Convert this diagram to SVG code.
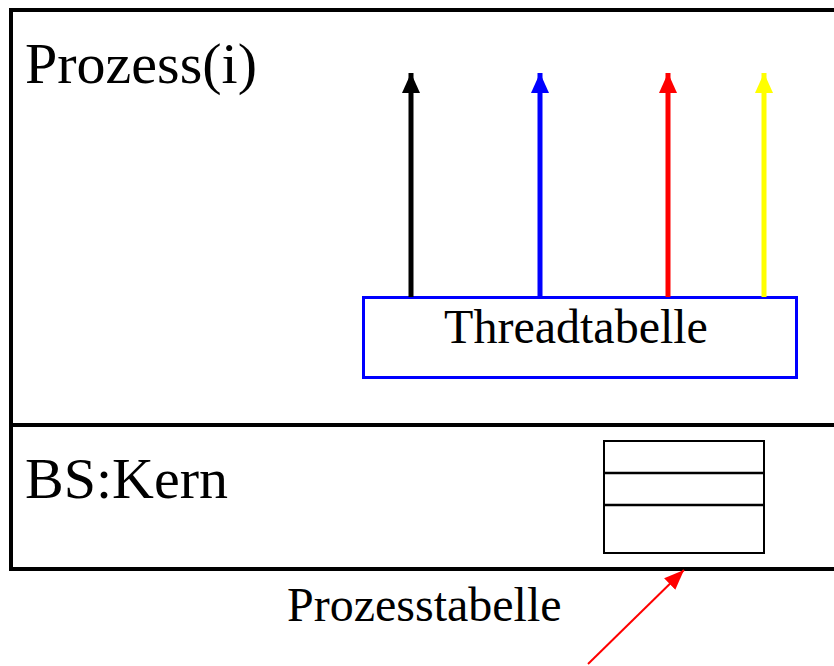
<svg xmlns="http://www.w3.org/2000/svg" width="834" height="666" viewBox="0 0 834 666">
<style>
text{font-family:"Liberation Serif","Times New Roman",serif;fill:#000}
.big{font-size:58px}
.mid{font-size:48px}
.frame{fill:none;stroke:#000;stroke-width:4}
.thr{stroke-width:5;fill:none}
</style>
<defs>
<marker id="hk" markerUnits="userSpaceOnUse" markerWidth="20" markerHeight="20" viewBox="0 0 20 20" refX="20" refY="10" orient="auto"><path d="M0,1 L20,10 L0,19 Z" fill="#000"/></marker>
<marker id="hb" markerUnits="userSpaceOnUse" markerWidth="20" markerHeight="20" viewBox="0 0 20 20" refX="20" refY="10" orient="auto"><path d="M0,1 L20,10 L0,19 Z" fill="#00f"/></marker>
<marker id="hr" markerUnits="userSpaceOnUse" markerWidth="20" markerHeight="20" viewBox="0 0 20 20" refX="20" refY="10" orient="auto"><path d="M0,1 L20,10 L0,19 Z" fill="#f00"/></marker>
<marker id="hy" markerUnits="userSpaceOnUse" markerWidth="20" markerHeight="20" viewBox="0 0 20 20" refX="20" refY="10" orient="auto"><path d="M0,1 L20,10 L0,19 Z" fill="#ff0"/></marker>
<marker id="hr2" markerUnits="userSpaceOnUse" markerWidth="20" markerHeight="20" viewBox="0 0 20 20" refX="20" refY="10" orient="auto"><path d="M0,2 L20,10 L0,18 Z" fill="#f00"/></marker>
</defs>
<g id="prozess">
<path class="frame" d="M840,10 H11 V425 H840"/>
<text class="big" x="25" y="83">Prozess(i)</text>
</g>
<g id="kern">
<path class="frame" d="M840,425 H11 V569 H840"/>
<text class="big" x="25" y="498">BS:Kern</text>
</g>
<g id="threadtabelle">
<rect x="363.5" y="297.5" width="433" height="80" fill="none" stroke="#00f" stroke-width="3"/>
<text class="mid" x="576" y="343" text-anchor="middle">Threadtabelle</text>
</g>
<g id="prozesstabelle">
<rect x="604" y="441" width="160" height="112" fill="none" stroke="#000" stroke-width="2"/>
<line x1="604" y1="473" x2="764" y2="473" stroke="#000" stroke-width="2.5"/>
<line x1="604" y1="505" x2="764" y2="505" stroke="#000" stroke-width="2.5"/>
</g>
<g id="label-prozesstabelle">
<text class="mid" x="287" y="621">Prozesstabelle</text>
</g>
<g id="connectors">
<line class="thr" x1="411" y1="297" x2="411" y2="73" stroke="#000" marker-end="url(#hk)"/>
<line class="thr" x1="540" y1="297" x2="540" y2="73" stroke="#00f" marker-end="url(#hb)"/>
<line class="thr" x1="668" y1="297" x2="668" y2="73" stroke="#f00" marker-end="url(#hr)"/>
<line class="thr" x1="764" y1="297" x2="764" y2="73" stroke="#ff0" marker-end="url(#hy)"/>
<line x1="588" y1="664" x2="684" y2="570" stroke="#f00" stroke-width="2" marker-end="url(#hr2)"/>
</g>
</svg>
